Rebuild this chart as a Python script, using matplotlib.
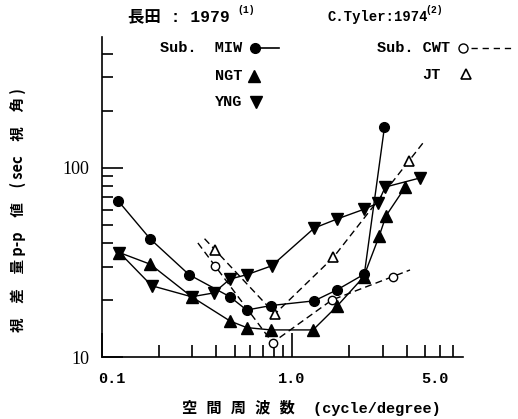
import matplotlib
matplotlib.use("Agg")
import matplotlib.pyplot as plt
from matplotlib.lines import Line2D
from matplotlib.ticker import FixedLocator, NullFormatter, FixedFormatter
from matplotlib.transforms import ScaledTranslation
import numpy as np

# 長田 (1979): 被験者 MIW / NGT / YNG
miw_x = [0.122, 0.180, 0.288, 0.472, 0.578, 0.776, 1.31, 1.72, 2.40, 3.06]
miw_y = [66.8, 42.0, 27.2, 20.8, 17.7, 18.7, 19.8, 22.6, 27.4, 163]

ngt_x = [0.124, 0.180, 0.297, 0.472, 0.578, 0.776, 1.29, 1.72, 2.38, 2.87, 3.12, 3.93]
ngt_y = [35.6, 30.9, 20.8, 15.5, 14.3, 13.9, 13.9, 18.5, 26.5, 43.4, 55.7, 78.7]

yng_x = [0.124, 0.183, 0.297, 0.388, 0.472, 0.578, 0.782, 1.31, 1.72, 2.40, 2.83, 3.09, 4.72]
yng_y = [35.6, 23.8, 20.8, 21.8, 25.8, 27.2, 30.3, 48.0, 53.5, 60.4, 65.0, 79.0, 88.3]

# C.Tyler (1974): 被験者 CWT / JT
cwt_x = [0.394, 0.79, 1.62, 3.39]
cwt_y = [30.3, 11.9, 20.0, 26.6]
jt_x = [0.394, 0.814, 1.65, 4.10]
jt_y = [36.8, 16.9, 33.6, 108]

x_ticks = [0.1, 1.0, 5.0]
x_ticklabels = ["0.1", "1.0", "5.0"]
y_ticks = [10, 100]
y_ticklabels = ["10", "100"]

JP = ["Noto Sans CJK JP", "DejaVu Sans"]
MONO = ["Liberation Mono", "Noto Sans CJK JP"]
W, H = 518, 419


def px(x, y):
    # pixel position (from top-left) -> figure fraction
    return x / W, 1 - y / H


def extended(xs, ys, d0, d1):
    # dashed fit lines overshoot the first/last point a little (in log space)
    lx, ly = np.log10(xs), np.log10(ys)
    s0 = (ly[1] - ly[0]) / (lx[1] - lx[0])
    s1 = (ly[-1] - ly[-2]) / (lx[-1] - lx[-2])
    lx = np.r_[lx[0] - d0, lx, lx[-1] + d1]
    ly = np.r_[ly[0] - s0 * d0, ly, ly[-1] + s1 * d1]
    return 10 ** lx, 10 ** ly


fig = plt.figure(figsize=(5.18, 4.19), dpi=100)
l, b = px(101.7, 357)
ax = fig.add_axes([l, b, (463 - 101.7) / W, (357 - 37) / H])
ax.set_xscale("log")
ax.set_yscale("log")
ax.set_xlim(0.1, 7.92)
ax.set_ylim(10, 490)

lw = 1.0
# dashed (Tyler)
ex, ey = extended(cwt_x, cwt_y, 0.09, 0.09)
ax.plot(ex, ey, color="k", lw=lw, ls=(0, (5, 3)))
ax.plot(cwt_x, cwt_y, ls="none", marker="o", ms=6, mfc="white", mec="k", mew=1.0, zorder=4)
ex, ey = extended(jt_x, jt_y, 0.055, 0.075)
ax.plot(ex, ey, color="k", lw=lw, ls=(0, (5, 3)))
ax.plot(jt_x, jt_y, ls="none", marker="^", ms=7.5, mfc="white", mec="k", mew=1.2, zorder=4)

# solid (長田)
ax.plot(miw_x, miw_y, color="k", lw=lw, marker="o", ms=7, zorder=5)
ax.plot(ngt_x, ngt_y, color="k", lw=lw, marker="^", ms=8, zorder=5)
ax.plot(yng_x, yng_y, color="k", lw=lw, marker="v", ms=8, zorder=5)

for s in ("top", "right"):
    ax.spines[s].set_visible(False)
for s in ("left", "bottom"):
    ax.spines[s].set_linewidth(1.2)

ax.xaxis.set_major_locator(FixedLocator(x_ticks))
ax.xaxis.set_major_formatter(FixedFormatter(x_ticklabels))
ax.xaxis.set_minor_locator(FixedLocator([0.2, 0.3, 0.4, 0.5, 0.6, 0.7, 0.8, 0.9, 2, 3, 4, 6, 7]))
ax.xaxis.set_minor_formatter(NullFormatter())
ax.yaxis.set_major_locator(FixedLocator(y_ticks))
ax.yaxis.set_major_formatter(FixedFormatter(y_ticklabels))
ax.yaxis.set_minor_locator(FixedLocator([20, 30, 40, 50, 60, 70, 80, 90, 200, 300, 400]))
ax.yaxis.set_minor_formatter(NullFormatter())

ax.tick_params(which="both", direction="in", width=1.2, color="k")
ax.tick_params(axis="x", which="major", length=17, pad=11)
ax.tick_params(axis="x", which="minor", length=9)
ax.tick_params(axis="y", which="major", length=15, pad=9)
ax.tick_params(axis="y", which="minor", length=8)
ax.xaxis.get_major_ticks()[2].tick1line.set_markersize(9)

for t in ax.get_xticklabels():
    t.set_fontfamily(MONO)
    t.set_fontweight("bold")
    t.set_fontsize(11)
    if t.get_text() in ("0.1", "5.0"):
        t.set_transform(t.get_transform() + ScaledTranslation(0.1, 0, fig.dpi_scale_trans))
for t in ax.get_yticklabels():
    t.set_fontfamily("Liberation Serif")
    t.set_fontsize(13)

# axis titles
fig.text(*px(311, 408), "空 間 周 波 数  (cycle/degree)", family=MONO, weight="bold",
         fontsize=11, ha="center", va="center")
fig.text(*px(18, 210), "視　差　量 p-p　値　( sec　視　角 )", family=JP, weight="bold",
         fontsize=10.5, rotation=90, ha="center", va="center")

# headers
fig.text(*px(128, 17), "長田 : 1979", family=MONO, weight="bold", fontsize=11.8, ha="left", va="center")
fig.text(*px(237, 10), "(1)", family=MONO, weight="bold", fontsize=7, ha="left", va="center")
fig.text(*px(327, 17), "C.Tyler:1974", family=MONO, weight="bold", fontsize=10, ha="left", va="center")
fig.text(*px(425, 10), "(2)", family=MONO, weight="bold", fontsize=7, ha="left", va="center")

# legend block
legend_rows = [
    (242, 48, "Sub.  MIW"), (242, 76, "NGT"), (242, 102, "YNG"),
    (450, 48, "Sub. CWT"), (441, 75, "JT"),
]
for x, y, s in legend_rows:
    fig.text(*px(x, y), s, family=MONO, weight="bold", fontsize=11, ha="right", va="center")


def glyph(xs, y, **kw):
    fx = [x / W for x in xs]
    fy = [1 - y / H] * len(xs)
    fig.add_artist(Line2D(fx, fy, transform=fig.transFigure, color="k", **kw))


glyph([255, 279], 48, lw=1.2)
glyph([255], 48, marker="o", ms=7, ls="none")
glyph([254], 76, marker="^", ms=8, ls="none")
glyph([256], 102, marker="v", ms=8, ls="none")
glyph([471, 515], 48, lw=1.0, ls=(0, (4.5, 3.5)))
glyph([463], 48, marker="o", ms=6.5, mfc="white", mew=1.0, ls="none")
glyph([466], 74, marker="^", ms=7.5, mfc="white", mew=1.2, ls="none")

fig.savefig("out.png", dpi=100, facecolor="white")
